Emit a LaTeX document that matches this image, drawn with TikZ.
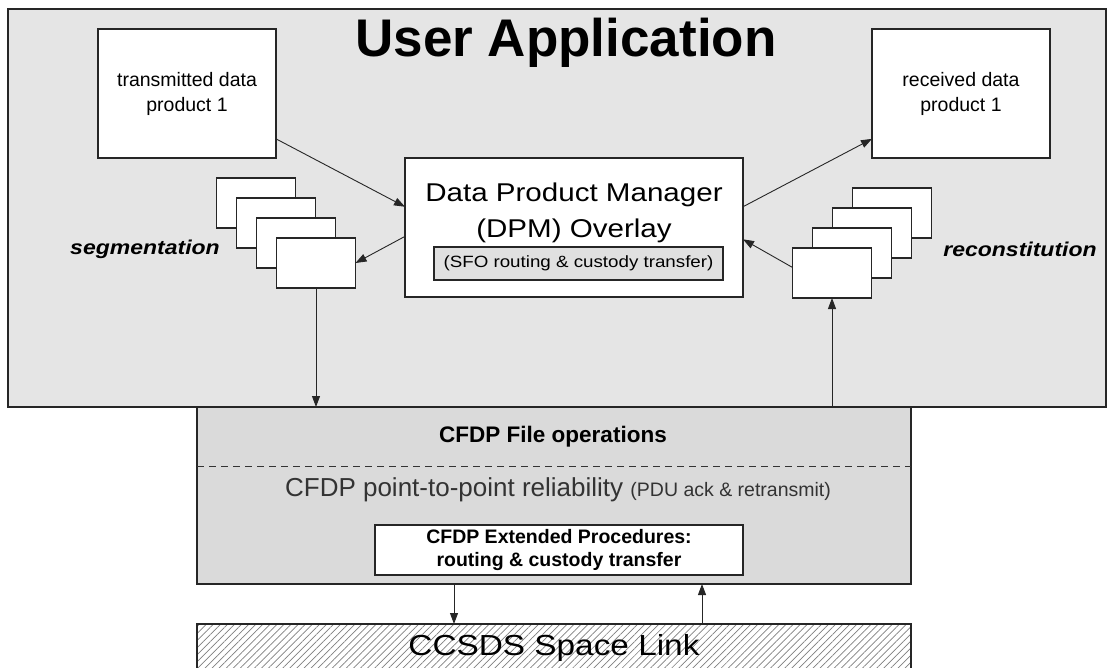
\documentclass[tikz,border=0pt]{standalone}
\usepackage{fontspec}
\setmainfont{Liberation Sans}
\newfontfamily\widesf{Liberation Sans}[FakeStretch=1.15]
\usetikzlibrary{arrows.meta, positioning, patterns.meta}

\definecolor{appgray}{gray}{0.90}
\definecolor{cfdpgray}{gray}{0.855}
\definecolor{sfogray}{gray}{0.88}

\begin{document}
\begin{tikzpicture}[
        x=1pt, y=-1pt,
        every node/.style={inner sep=0pt, outer sep=0pt},
        layer/.style={rectangle, draw=black!85, line width=1.4pt},
        product/.style={rectangle, draw=black!85, line width=1.4pt, fill=white, minimum width=178pt, minimum height=129pt, align=center, font=\fontsize{19.5}{25}\selectfont},
        segment/.style={rectangle, draw=black!85, line width=1.2pt, fill=white, minimum width=79pt, minimum height=50pt},
        steplabel/.style={font=\widesf\bfseries\itshape\fontsize{20}{24}\selectfont},
        arrow/.style={-{Triangle[length=11pt, width=8pt]}, line width=0.9pt, draw=black!85}
    ]
    \useasboundingbox (0,0) rectangle (1108,668);
    \clip (0,0) rectangle (1108,668);

    % User application layer
    \node (user_app) [layer, fill=appgray, minimum width=1098pt, minimum height=398pt] at (557,208) {};
    \node (title) [anchor=base, font=\bfseries\fontsize{53}{60}\selectfont] at (566,57) {User Application};

    \node (tx_product) [product] at (187,93.5) {transmitted data\\product 1};
    \node (rx_product) [product] at (961,93.5) {received data\\product 1};

    % DPM overlay
    \node (dpm) [layer, fill=white, minimum width=338pt, minimum height=139pt] at (574,227.5) {};
    \node (dpm_label) [align=center, font=\widesf\fontsize{25.7}{36}\selectfont] at (574,213) {Data Product Manager\\(DPM) Overlay};
    \node (sfo) [rectangle, draw=black!85, line width=1.2pt, fill=sfogray, minimum width=289pt, minimum height=33pt, font=\widesf\fontsize{16.3}{18}\selectfont] at (578.5,263.5) {(SFO routing \& custody transfer)};

    % Segments
    \node (seg1) [segment] at (256,203) {};
    \node (seg2) [segment] at (276,223) {};
    \node (seg3) [segment] at (296,243) {};
    \node (seg4) [segment] at (316,263) {};
    \node (seg_label) [steplabel] at (145,249) {segmentation};

    \node (rc1) [segment] at (892,213) {};
    \node (rc2) [segment] at (872,233) {};
    \node (rc3) [segment] at (852,253) {};
    \node (rc4) [segment] at (832,273) {};
    \node (rc_label) [steplabel] at (1020,249) {reconstitution};

    % CFDP layer
    \node (cfdp) [layer, fill=cfdpgray, minimum width=714pt, minimum height=177pt] at (554,495.5) {};
    \node (cfdp_files) [font=\bfseries\fontsize{22.5}{26}\selectfont] at (553,437) {CFDP File operations};
    \draw [dashed, dash pattern=on 7pt off 5pt, line width=1pt, draw=black!80] ([yshift=29.5pt]cfdp.west) -- ([yshift=29.5pt]cfdp.east);
    \node (cfdp_reliab) [text=black!80] at (558,490) {\fontsize{26}{30}\selectfont CFDP point-to-point reliability {\fontsize{19.5}{22}\selectfont (PDU ack \& retransmit)}};
    \node (ext_proc) [rectangle, draw=black!85, line width=1.2pt, fill=white, minimum width=368pt, minimum height=50pt, align=center, font=\bfseries\fontsize{19.5}{23}\selectfont] at (559,550) {CFDP Extended Procedures:\\routing \& custody transfer};

    % Space link
    \node (space_link) [layer, preaction={fill=white}, pattern={Lines[angle=45, distance=5pt, line width=0.7pt]}, pattern color=black!50, minimum width=714pt, minimum height=48pt, font=\widesf\fontsize{29}{32}\selectfont] at (554,648) {CCSDS Space Link};

    % Arrows
    \draw [arrow] (tx_product.-27.6) -- (dpm.173);
    \draw [arrow] (dpm.183.5) -- (seg4.east);
    \draw [arrow] (dpm.7) -- (rx_product.207);
    \draw [arrow] (rc4.172) -- (dpm.-4);
    \draw [arrow] (seg4.south) -- (seg4.south |- cfdp.north);
    \draw [arrow] (rc4.south |- cfdp.north) -- (rc4.south);
    \draw [arrow] ([xshift=-100pt]cfdp.south) -- ([xshift=-100pt]cfdp.south |- space_link.north);
    \draw [arrow] ([xshift=148pt]cfdp.south |- space_link.north) -- ([xshift=148pt]cfdp.south);

\end{tikzpicture}
\end{document}
